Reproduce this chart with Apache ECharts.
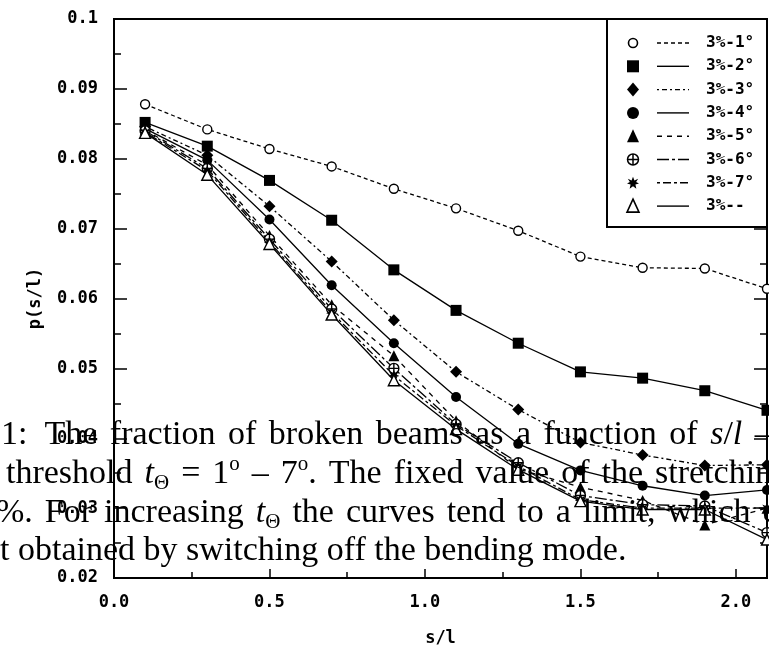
<!DOCTYPE html>
<html>
<head>
<meta charset="utf-8">
<script src="https://cdn.jsdelivr.net/npm/echarts@6/dist/echarts.min.js"></script>
<style>
  html, body { margin: 0; padding: 0; background: #fff; }
  #chart { width: 769px; height: 652px; }
</style>
</head>
<body>
<div id="chart"></div>
<script>
// s/l positions sampled along the beam
const sValues = [0.1, 0.3, 0.5, 0.7, 0.9, 1.1, 1.3, 1.5, 1.7, 1.9, 2.1];

// Fraction of broken beams p(s/l) for each threshold
const p1 = [0.0878, 0.0842, 0.0814, 0.0789, 0.0757, 0.0729, 0.0697, 0.0660, 0.0644, 0.0643, 0.0614];
const p2 = [0.0852, 0.0818, 0.0769, 0.0712, 0.0641, 0.0583, 0.0536, 0.0495, 0.0486, 0.0468, 0.0440];
const p3 = [0.0846, 0.0805, 0.0732, 0.0653, 0.0569, 0.0495, 0.0441, 0.0394, 0.0376, 0.0361, 0.0362];
const p4 = [0.0843, 0.0798, 0.0713, 0.0619, 0.0536, 0.0459, 0.0392, 0.0354, 0.0332, 0.0318, 0.0326];
const p5 = [0.0841, 0.0791, 0.0690, 0.0591, 0.0518, 0.0425, 0.0356, 0.0330, 0.0311, 0.0276, 0.0300];
const p6 = [0.0840, 0.0786, 0.0685, 0.0585, 0.0500, 0.0420, 0.0365, 0.0318, 0.0305, 0.0303, 0.0265];
const p7 = [0.0838, 0.0783, 0.0681, 0.0580, 0.0490, 0.0418, 0.0360, 0.0312, 0.0300, 0.0300, 0.0300];
const p8 = [0.0837, 0.0777, 0.0678, 0.0577, 0.0483, 0.0413, 0.0355, 0.0310, 0.0298, 0.0298, 0.0255];

const seriesNames = ['3%-1°', '3%-2°', '3%-3°', '3%-4°', '3%-5°', '3%-6°', '3%-7°', '3%--'];
const seriesValues = [p1, p2, p3, p4, p5, p6, p7, p8];

const xTicks = [0.0, 0.5, 1.0, 1.5, 2.0];
const yTicks = [0.02, 0.03, 0.04, 0.05, 0.06, 0.07, 0.08, 0.09, 0.1];

// caption words per line; math pieces are rich-text tokens
const captionLine1 = ['1:', '{r|The}', '{r|fraction}', '{r|of}', '{r|broken}', '{r|beams}', '{r|as}', '{r|a}', '{r|function}', '{r|of}', '{i|s}{r|/}{i|l}', '{r|–}'];
const captionLine2 = ['{r|threshold}', '{i|t}{sub|Θ}', '{r|=}', '{r|1}{sup|o}', '{r|–}', '{r|7}{sup|o}{r|.}', '{r|The}', '{r|fixed}', '{r|value}', '{r|of}', '{r|the}', '{r|stretching}'];
const captionLine3 = ['{r|%.}', '{r|For}', '{r|increasing}', '{i|t}{sub|Θ}', '{r|the}', '{r|curves}', '{r|tend}', '{r|to}', '{r|a}', '{r|limit,}', '{r|which}', '{r|cor}'];
const captionLine4 = ['{r|t}', '{r|obtained}', '{r|by}', '{r|switching}', '{r|off}', '{r|the}', '{r|bending}', '{r|mode.}'];

// marker shapes
const circlePlus = 'path://M0,5 A5,5 0 1,1 10,5 A5,5 0 1,1 0,5 Z M5,0 L5,10 M0,5 L10,5';
const starPts = [[5,0],[6.2,3],[9.3,1.6],[7.6,4.4],[10,5.6],[7,6.5],[7.8,10],[5,7.8],[2.2,10],[3,6.5],[0,5.6],[2.4,4.4],[0.7,1.6],[3.8,3]];
const starShape = 'path://M' + starPts.map(p => p.join(',')).join(' L') + ' Z';

const styles = [
  { symbol: 'circle', size: 9, dash: [4, 3], filled: false },
  { symbol: 'rect', size: 11, dash: 'solid', filled: true },
  { symbol: 'diamond', size: 12, dash: [2, 3, 5, 3], filled: true },
  { symbol: 'circle', size: 10, dash: 'solid', filled: true },
  { symbol: 'triangle', size: 11, dash: [5, 5], filled: true },
  { symbol: circlePlus, size: 10, dash: [12, 3, 3, 3], filled: false },
  { symbol: starShape, size: 11, dash: [3, 3, 8, 3], filled: true },
  { symbol: 'triangle', size: 11, dash: 'solid', filled: false }
];

const tickFont = '"DejaVu Sans Mono", monospace';

const series = seriesValues.map((vals, i) => ({
  name: seriesNames[i],
  type: 'line',
  data: vals.map((v, k) => [sValues[k], v]),
  symbol: styles[i].symbol,
  symbolSize: styles[i].size,
  showAllSymbol: true,
  clip: false,
  itemStyle: styles[i].filled
    ? { color: '#000' }
    : { color: '#fff', borderColor: '#000', borderWidth: 1.4 },
  lineStyle: { color: '#000', width: 1.3, type: styles[i].dash },
  emphasis: { disabled: true },
  z: 3
}));

// legend box drawn as graphic elements
const overlay = [];
const legX = 607, legY = 19, legW = 160, legH = 208;
overlay.push({
  type: 'rect',
  shape: { x: legX, y: legY, width: legW, height: legH },
  style: { fill: '#fff', stroke: '#000', lineWidth: 2 },
  z: 10
});
seriesNames.forEach((name, i) => {
  const cy = 43 + i * 23.3;
  const st = styles[i];
  const syms = [];
  if (i === 0) {
    syms.push({ type: 'circle', shape: { cx: 633, cy: cy, r: 4.5 }, style: { fill: '#fff', stroke: '#000', lineWidth: 1.6 } });
  } else if (i === 1) {
    syms.push({ type: 'rect', shape: { x: 627, y: cy - 6, width: 12, height: 12 }, style: { fill: '#000' } });
  } else if (i === 2) {
    syms.push({ type: 'polygon', shape: { points: [[633, cy - 7], [639, cy], [633, cy + 7], [627, cy]] }, style: { fill: '#000' } });
  } else if (i === 3) {
    syms.push({ type: 'circle', shape: { cx: 633, cy: cy, r: 6 }, style: { fill: '#000' } });
  } else if (i === 4) {
    syms.push({ type: 'polygon', shape: { points: [[633, cy - 7], [639, cy + 6], [627, cy + 6]] }, style: { fill: '#000' } });
  } else if (i === 5) {
    syms.push({ type: 'circle', shape: { cx: 633, cy: cy, r: 5.5 }, style: { fill: '#fff', stroke: '#000', lineWidth: 1.5 } });
    syms.push({ type: 'line', shape: { x1: 633, y1: cy - 5.5, x2: 633, y2: cy + 5.5 }, style: { stroke: '#000', lineWidth: 1.5 } });
    syms.push({ type: 'line', shape: { x1: 627.5, y1: cy, x2: 638.5, y2: cy }, style: { stroke: '#000', lineWidth: 1.5 } });
  } else if (i === 6) {
    syms.push({ type: 'polygon', shape: { points: starPts.map(p => [627 + p[0] * 1.2, cy - 6 + p[1] * 1.2]) }, style: { fill: '#000' } });
  } else {
    syms.push({ type: 'polygon', shape: { points: [[633, cy - 7], [639, cy + 6], [627, cy + 6]] }, style: { fill: '#fff', stroke: '#000', lineWidth: 1.6 } });
  }
  syms.forEach(s => { s.z = 11; overlay.push(s); });
  overlay.push({
    type: 'line',
    shape: { x1: 657, y1: cy, x2: 689, y2: cy },
    style: { stroke: '#000', lineWidth: 1.4, lineDash: st.dash === 'solid' ? null : st.dash },
    z: 11
  });
  overlay.push({
    type: 'text',
    x: 706, y: cy,
    style: { text: name, font: 'bold 16px ' + tickFont, fill: '#000', verticalAlign: 'middle', align: 'left' },
    z: 11
  });
});

// caption overlay, justified by widening the word gaps
const capFont = '"Liberation Serif", "Times New Roman", serif';
const capSize = 34;
const capRich = {
  r: { fontFamily: capFont, fontSize: capSize, fill: '#000' },
  i: { fontFamily: capFont, fontSize: capSize, fontStyle: 'italic', fill: '#000' },
  sub: { fontFamily: capFont, fontSize: 21, fill: '#000', verticalAlign: 'bottom' },
  sup: { fontFamily: capFont, fontSize: 21, fill: '#000', verticalAlign: 'top' },
  g1: { fontFamily: capFont, fontSize: capSize, width: 12.5 },
  g2: { fontFamily: capFont, fontSize: capSize, width: 12 },
  g3: { fontFamily: capFont, fontSize: capSize, width: 12 },
  g4: { fontFamily: capFont, fontSize: capSize, width: 8.5 },
  wide: { fontFamily: capFont, fontSize: capSize, width: 17 }
};
const capTexts = [
  '{r|' + captionLine1[0] + '}{wide| }' + captionLine1.slice(1).join('{g1| }'),
  captionLine2.join('{g2| }'),
  captionLine3.join('{g3| }'),
  captionLine4.join('{g4| }')
];
const capX = [1, 6, -4, 0];
const capY = [435, 474, 513, 551];
capTexts.forEach((t, i) => {
  overlay.push({
    type: 'text',
    x: capX[i], y: capY[i],
    style: { text: t, rich: capRich, verticalAlign: 'middle', align: 'left', lineHeight: 40 },
    z: 20
  });
});

const chart = echarts.init(document.getElementById('chart'), null, { renderer: 'canvas' });
chart.setOption({
  animation: false,
  backgroundColor: '#fff',
  grid: {
    left: 114, top: 19, right: 2, bottom: 70,
    show: true, borderColor: '#000', borderWidth: 2, backgroundColor: 'transparent'
  },
  xAxis: {
    type: 'value',
    min: 0, max: 2.1, interval: 0.5,
    name: 's/l',
    nameLocation: 'middle',
    nameGap: 52,
    nameTextStyle: { fontFamily: tickFont, fontWeight: 'bold', fontSize: 17, color: '#000' },
    axisLine: { show: false },
    axisTick: { show: true, inside: true, length: 9, lineStyle: { color: '#000', width: 1.5 } },
    minorTick: { show: true, splitNumber: 2, length: 6, lineStyle: { color: '#000', width: 1.5 } },
    splitLine: { show: false },
    axisLabel: {
      showMaxLabel: false,
      margin: 16,
      fontFamily: tickFont, fontWeight: 'bold', fontSize: 17, color: '#000',
      formatter: v => (xTicks.some(t => Math.abs(t - v) < 1e-9) ? v.toFixed(1) : '')
    }
  },
  yAxis: [{
    type: 'value',
    min: 0.02, max: 0.1, interval: 0.01,
    name: 'p(s/l)',
    nameLocation: 'middle',
    nameGap: 70,
    nameRotate: 90,
    nameTextStyle: { fontFamily: tickFont, fontWeight: 'bold', fontSize: 17, color: '#000' },
    axisLine: { show: false },
    axisTick: { show: true, inside: true, length: 13, lineStyle: { color: '#000', width: 1.5 } },
    minorTick: { show: true, splitNumber: 2, length: 7, lineStyle: { color: '#000', width: 1.5 } },
    splitLine: { show: false },
    axisLabel: {
      margin: 16,
      fontFamily: tickFont, fontWeight: 'bold', fontSize: 17, color: '#000',
      formatter: v => {
        const r = Math.round(v * 100) / 100;
        return yTicks.some(t => Math.abs(t - r) < 1e-9) ? String(r) : '';
      }
    }
  }, {
    type: 'value',
    position: 'right',
    min: 0.02, max: 0.1, interval: 0.01,
    axisLine: { show: false },
    axisTick: { show: true, inside: true, length: 13, lineStyle: { color: '#000', width: 1.5 } },
    minorTick: { show: true, splitNumber: 2, length: 7, lineStyle: { color: '#000', width: 1.5 } },
    splitLine: { show: false },
    axisLabel: { show: false }
  }],
  series: series,
  graphic: { elements: overlay }
});
</script>
</body>
</html>
